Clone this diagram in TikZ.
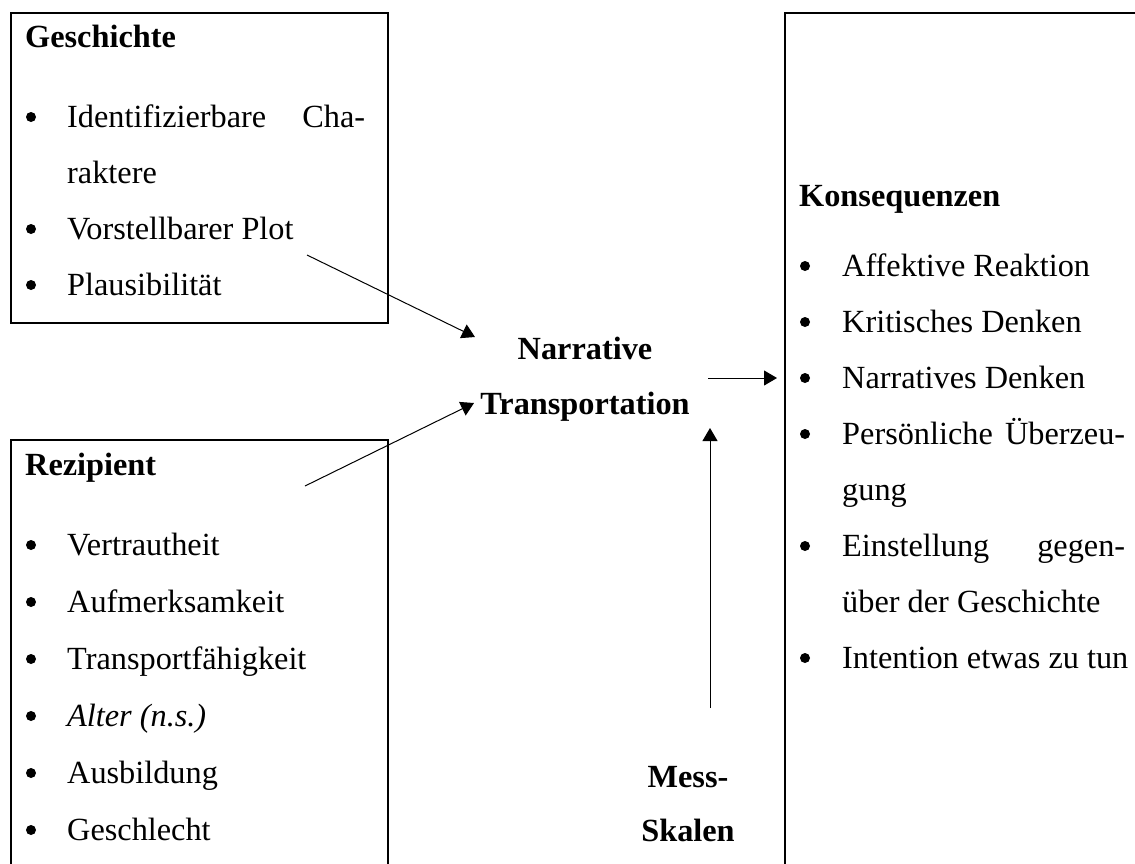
\documentclass[tikz,border=0pt]{standalone}
\usepackage{fontspec}
\setmainfont{Liberation Serif}
\usetikzlibrary{arrows.meta}
\begin{document}
\begin{tikzpicture}[x=1pt,y=-1pt,
  every node/.style={inner sep=0pt, font=\fontsize{32.3}{40}\selectfont},
  txt/.style={anchor=base west},
  bul/.style={circle, fill=black, minimum size=10pt, yshift=10pt},
  hd/.style={anchor=base west, font=\fontsize{32.3}{40}\selectfont\bfseries},
  mid/.style={anchor=base, font=\fontsize{32.3}{40}\selectfont\bfseries},
  boxframe/.style={draw, line width=2pt, anchor=north west},
  arr/.style={-{Triangle[length=13pt,width=15pt]}, line width=1pt}]
\useasboundingbox (0,0) rectangle (1135,863);
\clip (0,0) rectangle (1135,863);
% boxes
\node[boxframe, minimum width=377pt, minimum height=310pt] (gbox) at (10,12) {};
\node[boxframe, minimum width=377pt, minimum height=520pt] (rbox) at (10,439) {};
\node[boxframe, minimum width=420pt, minimum height=920pt] (kbox) at (784,12) {};
% Geschichte
\node[hd] (gh) at (25,47) {Geschichte};
\node[bul] (gb1) at (31,127) {};
\node[txt] (g1) at (67,127) {\hbox to 298pt{Identifizierbare\hfill Cha-}};
\node[txt] (g1b) at (67,183) {raktere};
\node[bul] (gb2) at (31,239) {};
\node[txt] (g2) at (67,239) {Vorstellbarer Plot};
\node[bul] (gb3) at (31,295) {};
\node[txt] (g3) at (67,295) {Plausibilität};
% Rezipient
\node[hd] (rh) at (25,475) {Rezipient};
\node[bul] (rb1) at (31,555) {};
\node[txt] (r1) at (67,555) {Vertrautheit};
\node[bul] (rb2) at (31,612) {};
\node[txt] (r2) at (67,612) {Aufmerksamkeit};
\node[bul] (rb3) at (31,669) {};
\node[txt] (r3) at (67,669) {Transportfähigkeit};
\node[bul] (rb4) at (31,726) {};
\node[txt] (r4) at (67,726) {\itshape Alter (n.s.)};
\node[bul] (rb5) at (31,783) {};
\node[txt] (r5) at (67,783) {Ausbildung};
\node[bul] (rb6) at (31,840) {};
\node[txt] (r6) at (67,840) {Geschlecht};
% Konsequenzen
\node[hd] (kh) at (799,206) {Konsequenzen};
\node[bul] (kb1) at (805,276) {};
\node[txt] (k1) at (842,276) {Affektive Reaktion};
\node[bul] (kb2) at (805,332) {};
\node[txt] (k2) at (842,332) {Kritisches Denken};
\node[bul] (kb3) at (805,388) {};
\node[txt] (k3) at (842,388) {Narratives Denken};
\node[bul] (kb4) at (805,444) {};
\node[txt] (k4) at (842,444) {\hbox to 283pt{Persönliche\hfill Überzeu-}};
\node[txt] (k4b) at (842,500) {gung};
\node[bul] (kb5) at (805,556) {};
\node[txt] (k5) at (842,556) {\hbox to 283pt{Einstellung\hfill gegen-}};
\node[txt] (k5b) at (842,612) {über der Geschichte};
\node[bul] (kb6) at (805,668) {};
\node[txt] (k6) at (842,668) {Intention etwas zu tun};
% middle
\node[mid] (nt1) at (585,359) {Narrative};
\node[mid] (nt2) at (585,414) {Transportation};
\node[mid] (ms1) at (688,787) {Mess-};
\node[mid] (ms2) at (688,841) {Skalen};
% connector ends
\coordinate (a1s) at (307,255);
\coordinate (a1e) at (475,337);
\coordinate (a2s) at (305,486);
\coordinate (a2e) at (474,403);
\coordinate (a3s) at (708,378);
\coordinate (a3e) at (777,378);
\coordinate (a4s) at (710,708);
\coordinate (a4e) at (710,428);
\draw[arr] (a1s) -- (a1e);
\draw[arr] (a2s) -- (a2e);
\draw[arr] (a3s) -- (a3e);
\draw[arr] (a4s) -- (a4e);
\end{tikzpicture}
\end{document}
